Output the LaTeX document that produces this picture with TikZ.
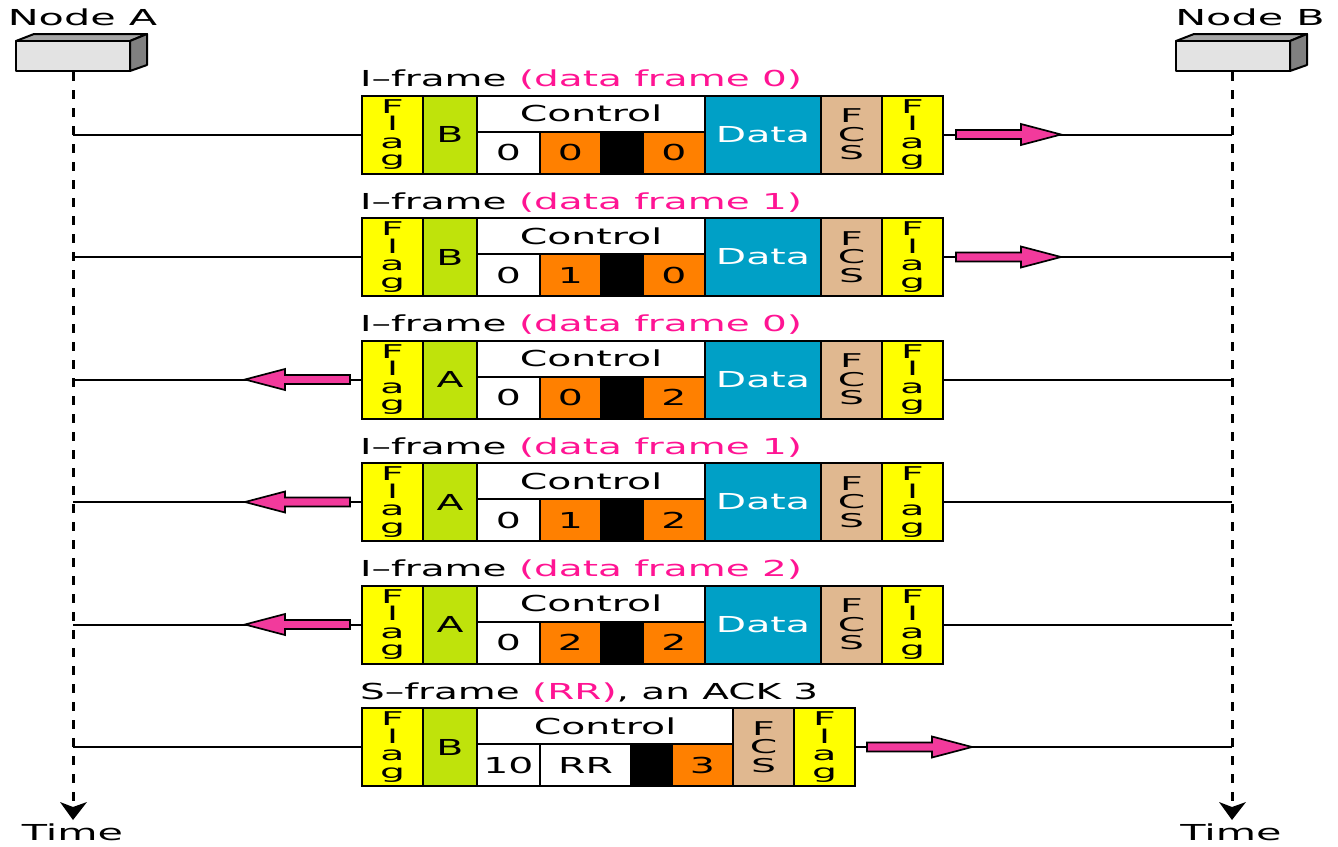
\documentclass[tikz,border=0pt]{standalone}
\usepackage{fontspec}
\setmainfont{DejaVu Sans}
\definecolor{flagc}{HTML}{FFFF00}
\definecolor{addrc}{HTML}{BFE30B}
\definecolor{orangec}{HTML}{FF8000}
\definecolor{datac}{HTML}{00A0C6}
\definecolor{fcsc}{HTML}{E0B890}
\definecolor{pinkc}{HTML}{F23A9C}
\definecolor{pinkt}{HTML}{FF1493}
\newcommand{\wide}[1]{\scalebox{1.79}[1]{#1}}
\newcommand{\wides}[1]{\scalebox{2.07}[1]{#1}}
\newcommand{\widet}[1]{\scalebox{1.88}[1]{#1}}
\newcommand{\widel}[1]{\scalebox{1.77}[1]{#1}}
\newcommand{\flagtxt}{\wides{F}\\\wides{l}\\\wides{a}\\\wides{g}}
\newcommand{\fcstxt}{\wides{F}\\[1pt]\wides{C}\\[1pt]\wides{S}}
\tikzset{
  x=1pt,y=-1pt,
  cell/.style={draw=black,line width=2pt,anchor=north west,inner sep=0pt,outer sep=0pt,align=center},
  big/.style={cell,minimum height=78pt,font=\fontsize{22}{17}\selectfont},
  stack/.style={big,font=\fontsize{19}{17.4}\selectfont},
  upper/.style={cell,minimum height=36pt,fill=white,font=\fontsize{22}{17}\selectfont},
  lower/.style={cell,minimum height=42pt,font=\fontsize{22}{17}\selectfont},
  label/.style={anchor=base west,inner sep=0pt,font=\fontsize{22}{22}\selectfont},
  title/.style={anchor=base,inner sep=0pt,font=\fontsize{22}{22}\selectfont},
  wire/.style={line width=2pt},
  timeline/.style={line width=3pt,dash pattern=on 9pt off 9pt},
  timehead/.style={fill=black,draw=none},
  pinkarrow/.style={draw=black,line width=1.7pt,fill=pinkc,line join=miter},
  front/.style={draw=black,line width=2pt,fill=black!11,line join=round},
  topface/.style={draw=black,line width=2pt,fill=black!35,line join=round},
  sideface/.style={draw=black,line width=2pt,fill=black!50,line join=round},
}
% #1 row id, #2 top y, #3 address, #4 N(S), #5 N(R), #6 label number
\newcommand{\iframe}[6]{
  \pgfmathsetmacro{\ty}{#2}
  \pgfmathsetmacro{\ly}{#2+36}
  \pgfmathsetmacro{\by}{#2-9}
  \node[stack,fill=flagc,minimum width=61pt] (fa#1) at (362,\ty) {\flagtxt};
  \node[big,fill=addrc,minimum width=54pt] (ad#1) at (423,\ty) {\wide{#3}};
  \node[upper,minimum width=228pt] (ct#1) at (477,\ty) {\wide{Control}};
  \node[lower,fill=white,minimum width=63pt] (z#1) at (477,\ly) {\wide{0}};
  \node[lower,fill=orangec,minimum width=61pt] (ns#1) at (540,\ly) {\wide{#4}};
  \node[lower,fill=black,minimum width=42pt] (pf#1) at (601,\ly) {};
  \node[lower,fill=orangec,minimum width=62pt] (nr#1) at (643,\ly) {\wide{#5}};
  \node[big,fill=datac,minimum width=116pt,text=white] (da#1) at (705,\ty) {\wide{Data}};
  \node[stack,fill=fcsc,minimum width=61pt] (fc#1) at (821,\ty) {\fcstxt};
  \node[stack,fill=flagc,minimum width=61pt] (fb#1) at (882,\ty) {\flagtxt};
  \node[label] (lb#1) at (360,\by) {\widel{I–frame \textcolor{pinkt}{(data frame #6)}}};
}
% #1 tail x, #2 centre y  (pointing right)
\newcommand{\rarrow}[2]{
  \draw[pinkarrow] (#1,#2-4.5) -- (#1+65,#2-4.5) -- (#1+65,#2-10.5) -- (#1+105,#2) -- (#1+65,#2+10.5) -- (#1+65,#2+4.5) -- (#1,#2+4.5) -- cycle;
}
\newcommand{\larrow}[2]{
  \draw[pinkarrow] (#1,#2-4.5) -- (#1-65,#2-4.5) -- (#1-65,#2-10.5) -- (#1-105,#2) -- (#1-65,#2+10.5) -- (#1-65,#2+4.5) -- (#1,#2+4.5) -- cycle;
}
\begin{document}
\begin{tikzpicture}
\useasboundingbox (0,0) rectangle (1338,846);
% nodes
\draw[topface] (16,41) -- (34,34) -- (147,34) -- (130,41) -- cycle;
\draw[sideface] (130,41) -- (147,34) -- (147,65) -- (130,71) -- cycle;
\node[front,anchor=north west,minimum width=114pt,minimum height=30pt,inner sep=0pt,outer sep=0pt] (nodeA) at (16,41) {};
\draw[topface] (1176,41) -- (1194,34) -- (1307,34) -- (1290,41) -- cycle;
\draw[sideface] (1290,41) -- (1307,34) -- (1307,65) -- (1290,71) -- cycle;
\node[front,anchor=north west,minimum width=114pt,minimum height=30pt,inner sep=0pt,outer sep=0pt] (nodeB) at (1176,41) {};
\node[title] (ta) at (82.5,25) {\widet{Node A}};
\node[title] (tb) at (1250,25) {\widet{Node B}};
\node[title] (ma) at (72.5,840) {\widet{Time}};
\node[title] (mb) at (1231,840) {\widet{Time}};
\coordinate (endA) at (73,804);
\coordinate (endB) at (1232,804);
\coordinate (topA) at (73,72);
\coordinate (topB) at (1232,72);
\draw[timeline] (topA) -- (endA);
\draw[timeline] (topB) -- (endB);
\fill[timehead] (60,802) -- (73,807) -- (87,802) -- (73,820) -- cycle;
\fill[timehead] (1219,802) -- (1232,807) -- (1246,802) -- (1232,820) -- cycle;
% anchors on the timelines
\foreach \i/\y in {1/134.5,2/257,3/379.5,4/502,5/624.5,6/747}{
  \coordinate (A\i) at (73,\y);
  \coordinate (B\i) at (1232,\y);
}
% frames
\iframe{1}{95.5}{B}{0}{0}{0}
\iframe{2}{218}{B}{1}{0}{1}
\iframe{3}{340.5}{A}{0}{2}{0}
\iframe{4}{463}{A}{1}{2}{1}
\iframe{5}{585.5}{A}{2}{2}{2}
% S frame
\node[stack,fill=flagc,minimum width=61pt] (fa6) at (362,708) {\flagtxt};
\node[big,fill=addrc,minimum width=54pt] (ad6) at (423,708) {\wide{B}};
\node[upper,minimum width=256pt] (ct6) at (477,708) {\wide{Control}};
\node[lower,fill=white,minimum width=63pt] (z6) at (477,744) {\wide{10}};
\node[lower,fill=white,minimum width=91pt] (rr6) at (540,744) {\wide{RR}};
\node[lower,fill=black,minimum width=41pt] (pf6) at (631,744) {};
\node[lower,fill=orangec,minimum width=61pt] (nr6) at (672,744) {\wide{3}};
\node[stack,fill=fcsc,minimum width=61pt] (fc6) at (733,708) {\fcstxt};
\node[stack,fill=flagc,minimum width=61pt] (fb6) at (794,708) {\flagtxt};
\node[label] (lb6) at (360,699) {\widel{S–frame \textcolor{pinkt}{(RR)}, an ACK 3}};
% connectors
\foreach \i in {1,...,6}{
  \draw[wire] (A\i) -- (fa\i.west);
  \draw[wire] (fb\i.east) -- (B\i);
}
% direction arrows
\rarrow{956}{134.5}
\rarrow{956}{257}
\larrow{350}{379.5}
\larrow{350}{502}
\larrow{350}{624.5}
\rarrow{867}{747}
\end{tikzpicture}
\end{document}
